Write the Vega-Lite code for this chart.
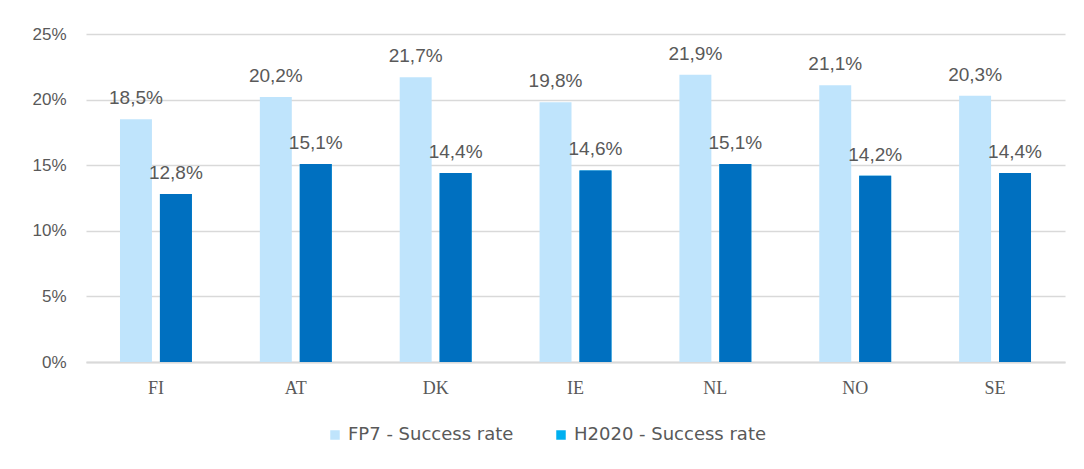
{
  "$schema": "https://vega.github.io/schema/vega-lite/v6.json",
  "width": 979,
  "height": 328,
  "autosize": {"type": "none"},
  "padding": {"left": 86, "top": 34, "right": 19, "bottom": 107},
  "background": "white",
  "config": {
    "view": {"stroke": null},
    "locale": {"number": {"decimal": ",", "thousands": ".", "grouping": [3], "currency": ["", " €"]}},
    "font": "Liberation Sans"
  },
  "data": {
    "values": [
      {"country": "FI", "series": "FP7 - Success rate", "rate": 0.185},
      {"country": "FI", "series": "H2020 - Success rate", "rate": 0.128},
      {"country": "AT", "series": "FP7 - Success rate", "rate": 0.202},
      {"country": "AT", "series": "H2020 - Success rate", "rate": 0.151},
      {"country": "DK", "series": "FP7 - Success rate", "rate": 0.217},
      {"country": "DK", "series": "H2020 - Success rate", "rate": 0.144},
      {"country": "IE", "series": "FP7 - Success rate", "rate": 0.198},
      {"country": "IE", "series": "H2020 - Success rate", "rate": 0.146},
      {"country": "NL", "series": "FP7 - Success rate", "rate": 0.219},
      {"country": "NL", "series": "H2020 - Success rate", "rate": 0.151},
      {"country": "NO", "series": "FP7 - Success rate", "rate": 0.211},
      {"country": "NO", "series": "H2020 - Success rate", "rate": 0.142},
      {"country": "SE", "series": "FP7 - Success rate", "rate": 0.203},
      {"country": "SE", "series": "H2020 - Success rate", "rate": 0.144}
    ]
  },
  "encoding": {
    "x": {
      "field": "country",
      "type": "nominal",
      "sort": ["FI", "AT", "DK", "IE", "NL", "NO", "SE"],
      "scale": {"paddingInner": 0.486, "paddingOuter": 0.243},
      "axis": {
        "title": null,
        "labelAngle": 0,
        "labelFont": "Liberation Serif",
        "labelFontSize": 18,
        "labelColor": "#595959",
        "labelPadding": 17,
        "ticks": false,
        "domainColor": "#d9d9d9",
        "domainWidth": 2
      }
    },
    "xOffset": {
      "field": "series",
      "type": "nominal",
      "scale": {"domain": ["FP7 - Success rate", "H2020 - Success rate"], "paddingInner": 0.2, "paddingOuter": 0}
    },
    "y": {
      "field": "rate",
      "type": "quantitative",
      "scale": {"domain": [0, 0.25], "nice": false},
      "axis": {
        "title": null,
        "format": ".0%",
        "values": [0, 0.05, 0.1, 0.15, 0.2, 0.25],
        "labelFontSize": 17,
        "labelColor": "#595959",
        "labelPadding": 20,
        "ticks": false,
        "domain": false,
        "gridColor": "#d9d9d9",
        "gridWidth": 1.5
      }
    }
  },
  "layer": [
    {
      "mark": {"type": "bar"},
      "encoding": {
        "color": {
          "field": "series",
          "type": "nominal",
          "scale": {"domain": ["FP7 - Success rate", "H2020 - Success rate"], "range": ["#bfe4fc", "#00b0f0"]},
          "legend": {
            "title": null,
            "orient": "none",
            "direction": "horizontal",
            "legendX": 240,
            "legendY": 392,
            "symbolType": "square",
            "symbolSize": 90,
            "symbolStrokeWidth": 0,
            "labelFont": "DejaVu Sans",
            "labelFontSize": 18,
            "labelColor": "#595959",
            "labelLimit": 400,
            "columnPadding": 38,
            "labelOffset": 4
          }
        }
      }
    },
    {
      "transform": [{"filter": "datum.series === 'H2020 - Success rate'"}],
      "mark": {"type": "bar", "color": "#0070c0"}
    },
    {
      "mark": {"type": "text", "baseline": "alphabetic", "dy": -15, "fontSize": 19, "color": "#595959"},
      "encoding": {
        "text": {"field": "rate", "type": "quantitative", "format": ".1%"}
      }
    }
  ]
}
